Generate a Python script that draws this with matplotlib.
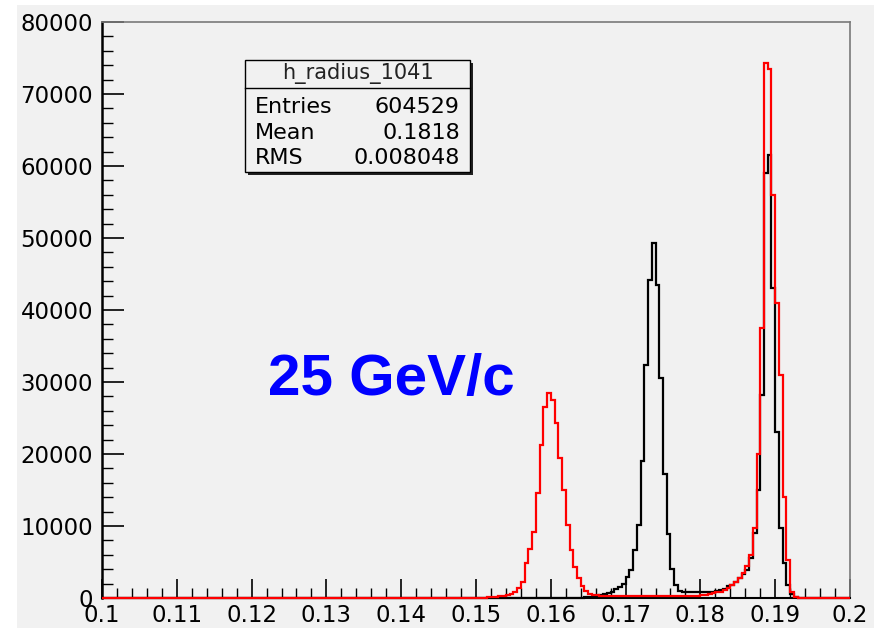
import numpy as np
import matplotlib
matplotlib.use("Agg")
import matplotlib.pyplot as plt
from matplotlib.patches import Rectangle
from matplotlib.lines import Line2D
from matplotlib.ticker import FixedLocator, MultipleLocator

W, H = 874, 628

# histogram binning
radius_min, radius_max, n_bins = 0.1, 0.2, 200
# per-bin counts from r = 0.150 up to r = 0.200 (bins below 0.150 are empty)
tail_start = 0.15

black_counts = [
    0, 0, 0, 0, 0, 0, 0, 0, 0, 0,
    0, 0, 0, 0, 0, 0, 0, 0, 0, 0,
    0, 0, 0, 0, 0, 0, 0, 0, 50, 80,
    100, 200, 300, 400, 500, 700, 900, 1200, 1500, 2000,
    2900, 3900, 6700, 10100, 19000, 32400, 44200, 49300, 43500, 30600,
    17200, 8900, 4000, 1800, 1000, 900, 800, 800, 800, 800,
    800, 800, 800, 900, 1000, 1100, 1300, 1600, 1800, 2200,
    2800, 3400, 3900, 5500, 9000, 15000, 28200, 59000, 61500, 43000,
    23000, 9700, 4900, 1800, 500, 200, 0, 0, 0, 0,
    0, 0, 0, 0, 0, 0, 0, 0, 0, 0,
]

red_counts = [
    0, 0, 50, 100, 150, 200, 250, 300, 400, 600,
    900, 1400, 2200, 4900, 6800, 9200, 14600, 21200, 26500, 28500,
    27500, 24300, 19400, 15000, 10100, 6700, 4300, 2800, 1700, 1000,
    600, 450, 350, 300, 300, 300, 300, 300, 300, 300,
    300, 300, 300, 300, 300, 300, 300, 300, 300, 300,
    300, 300, 300, 300, 300, 300, 300, 300, 300, 300,
    350, 450, 600, 700, 800, 900, 1100, 1400, 1800, 2200,
    2800, 3500, 4500, 6000, 9700, 20000, 37500, 74300, 73500, 56000,
    41000, 31000, 14000, 5300, 900, 100, 0, 0, 0, 0,
    0, 0, 0, 0, 0, 0, 0, 0, 0, 0,
]

y_ticks = [0, 10000, 20000, 30000, 40000, 50000, 60000, 70000, 80000]
y_tick_labels = ["0", "10000", "20000", "30000", "40000", "50000", "60000", "70000", "80000"]
x_ticks = [0.1, 0.11, 0.12, 0.13, 0.14, 0.15, 0.16, 0.17, 0.18, 0.19, 0.2]
x_tick_labels = ["0.1", "0.11", "0.12", "0.13", "0.14", "0.15", "0.16", "0.17", "0.18", "0.19", "0.2"]

stats_title = "h_radius_1041"
stats_names = ["Entries", "Mean", "RMS"]
stats_values = ["604529", "0.1818", "0.008048"]
beam_label = "25 GeV/c"

BG = "#f1f1f1"

edges = np.linspace(radius_min, radius_max, n_bins + 1)
bin_width = (radius_max - radius_min) / n_bins
n_empty = int(round((tail_start - radius_min) / bin_width))
black = np.concatenate([np.zeros(n_empty), np.array(black_counts, float)])
red = np.concatenate([np.zeros(n_empty), np.array(red_counts, float)])


def fx(px):
    return px / W


def fy(py):
    return 1 - py / H


fig = plt.figure(figsize=(W / 100, H / 100), dpi=100, facecolor="white")
fig.add_artist(Rectangle((fx(17), 0), 1 - fx(17), fy(5), transform=fig.transFigure,
                         facecolor=BG, edgecolor="none", zorder=-10))

ax = fig.add_axes([fx(102), fy(598), (850 - 102) / W, (598 - 22) / H])
ax.set_facecolor(BG)

ax.stairs(black, edges, color="black", lw=1.6, zorder=3, clip_on=False)
ax.stairs(red, edges, color="red", lw=1.6, zorder=4, clip_on=False)

ax.set_xlim(radius_min, radius_max)
ax.set_ylim(0, 80000)

ax.xaxis.set_major_locator(FixedLocator(x_ticks))
ax.set_xticklabels(x_tick_labels)
ax.xaxis.set_minor_locator(MultipleLocator(0.002))
ax.yaxis.set_major_locator(FixedLocator(y_ticks))
ax.set_yticklabels(y_tick_labels)
ax.yaxis.set_minor_locator(MultipleLocator(2000))

tick_font = dict(family="DejaVu Sans", size=16.5)
for lab in ax.get_xticklabels() + ax.get_yticklabels():
    lab.set_fontfamily(tick_font["family"])
    lab.set_fontsize(tick_font["size"])

ax.tick_params(axis="x", which="major", direction="in", length=13.5, width=1.2,
               pad=4, top=False, color="black")
ax.tick_params(axis="x", which="minor", direction="in", length=7, width=1.0,
               top=False, color="black")
ax.tick_params(axis="y", which="major", direction="in", length=15.5, width=1.2,
               pad=6.5, right=False, color="black")
ax.tick_params(axis="y", which="minor", direction="in", length=8, width=1.0,
               right=False, color="black")

ax.spines["left"].set_color("black")
ax.spines["left"].set_linewidth(1.8)
ax.spines["bottom"].set_color("black")
ax.spines["bottom"].set_linewidth(1.5)
for side in ("top", "right"):
    ax.spines[side].set_color("#7a7a7a")
    ax.spines[side].set_linewidth(1.2)

# statistics box
bx0, bx1, by0, by1 = 245, 470, 60, 172
fig.add_artist(Rectangle((fx(bx0 + 3), fy(by1 + 3)), (bx1 - bx0) / W, (by1 - by0) / H,
                         transform=fig.transFigure, facecolor="#222222",
                         edgecolor="none", zorder=5))
fig.add_artist(Rectangle((fx(bx0), fy(by1)), (bx1 - bx0) / W, (by1 - by0) / H,
                         transform=fig.transFigure, facecolor=BG,
                         edgecolor="black", lw=1.0, zorder=6))
fig.add_artist(Line2D([fx(bx0), fx(bx1)], [fy(88), fy(88)], transform=fig.transFigure,
                      color="black", lw=1.0, zorder=7))
fig.text(fx(358), fy(74), stats_title, ha="center", va="center",
         fontsize=15, family="DejaVu Sans", color="#222222", zorder=8)
for row_y, name, value in zip([107, 133, 158], stats_names, stats_values):
    fig.text(fx(255), fy(row_y), name, ha="left", va="center",
             fontsize=16, family="DejaVu Sans", zorder=8)
    fig.text(fx(460), fy(row_y), value, ha="right", va="center",
             fontsize=16, family="DejaVu Sans", zorder=8)

fig.text(fx(268), fy(395), beam_label, ha="left", va="baseline",
         fontsize=42, fontweight="bold", family="Liberation Sans", color="#0000ff")

fig.savefig("out.png", dpi=100, facecolor=fig.get_facecolor())
